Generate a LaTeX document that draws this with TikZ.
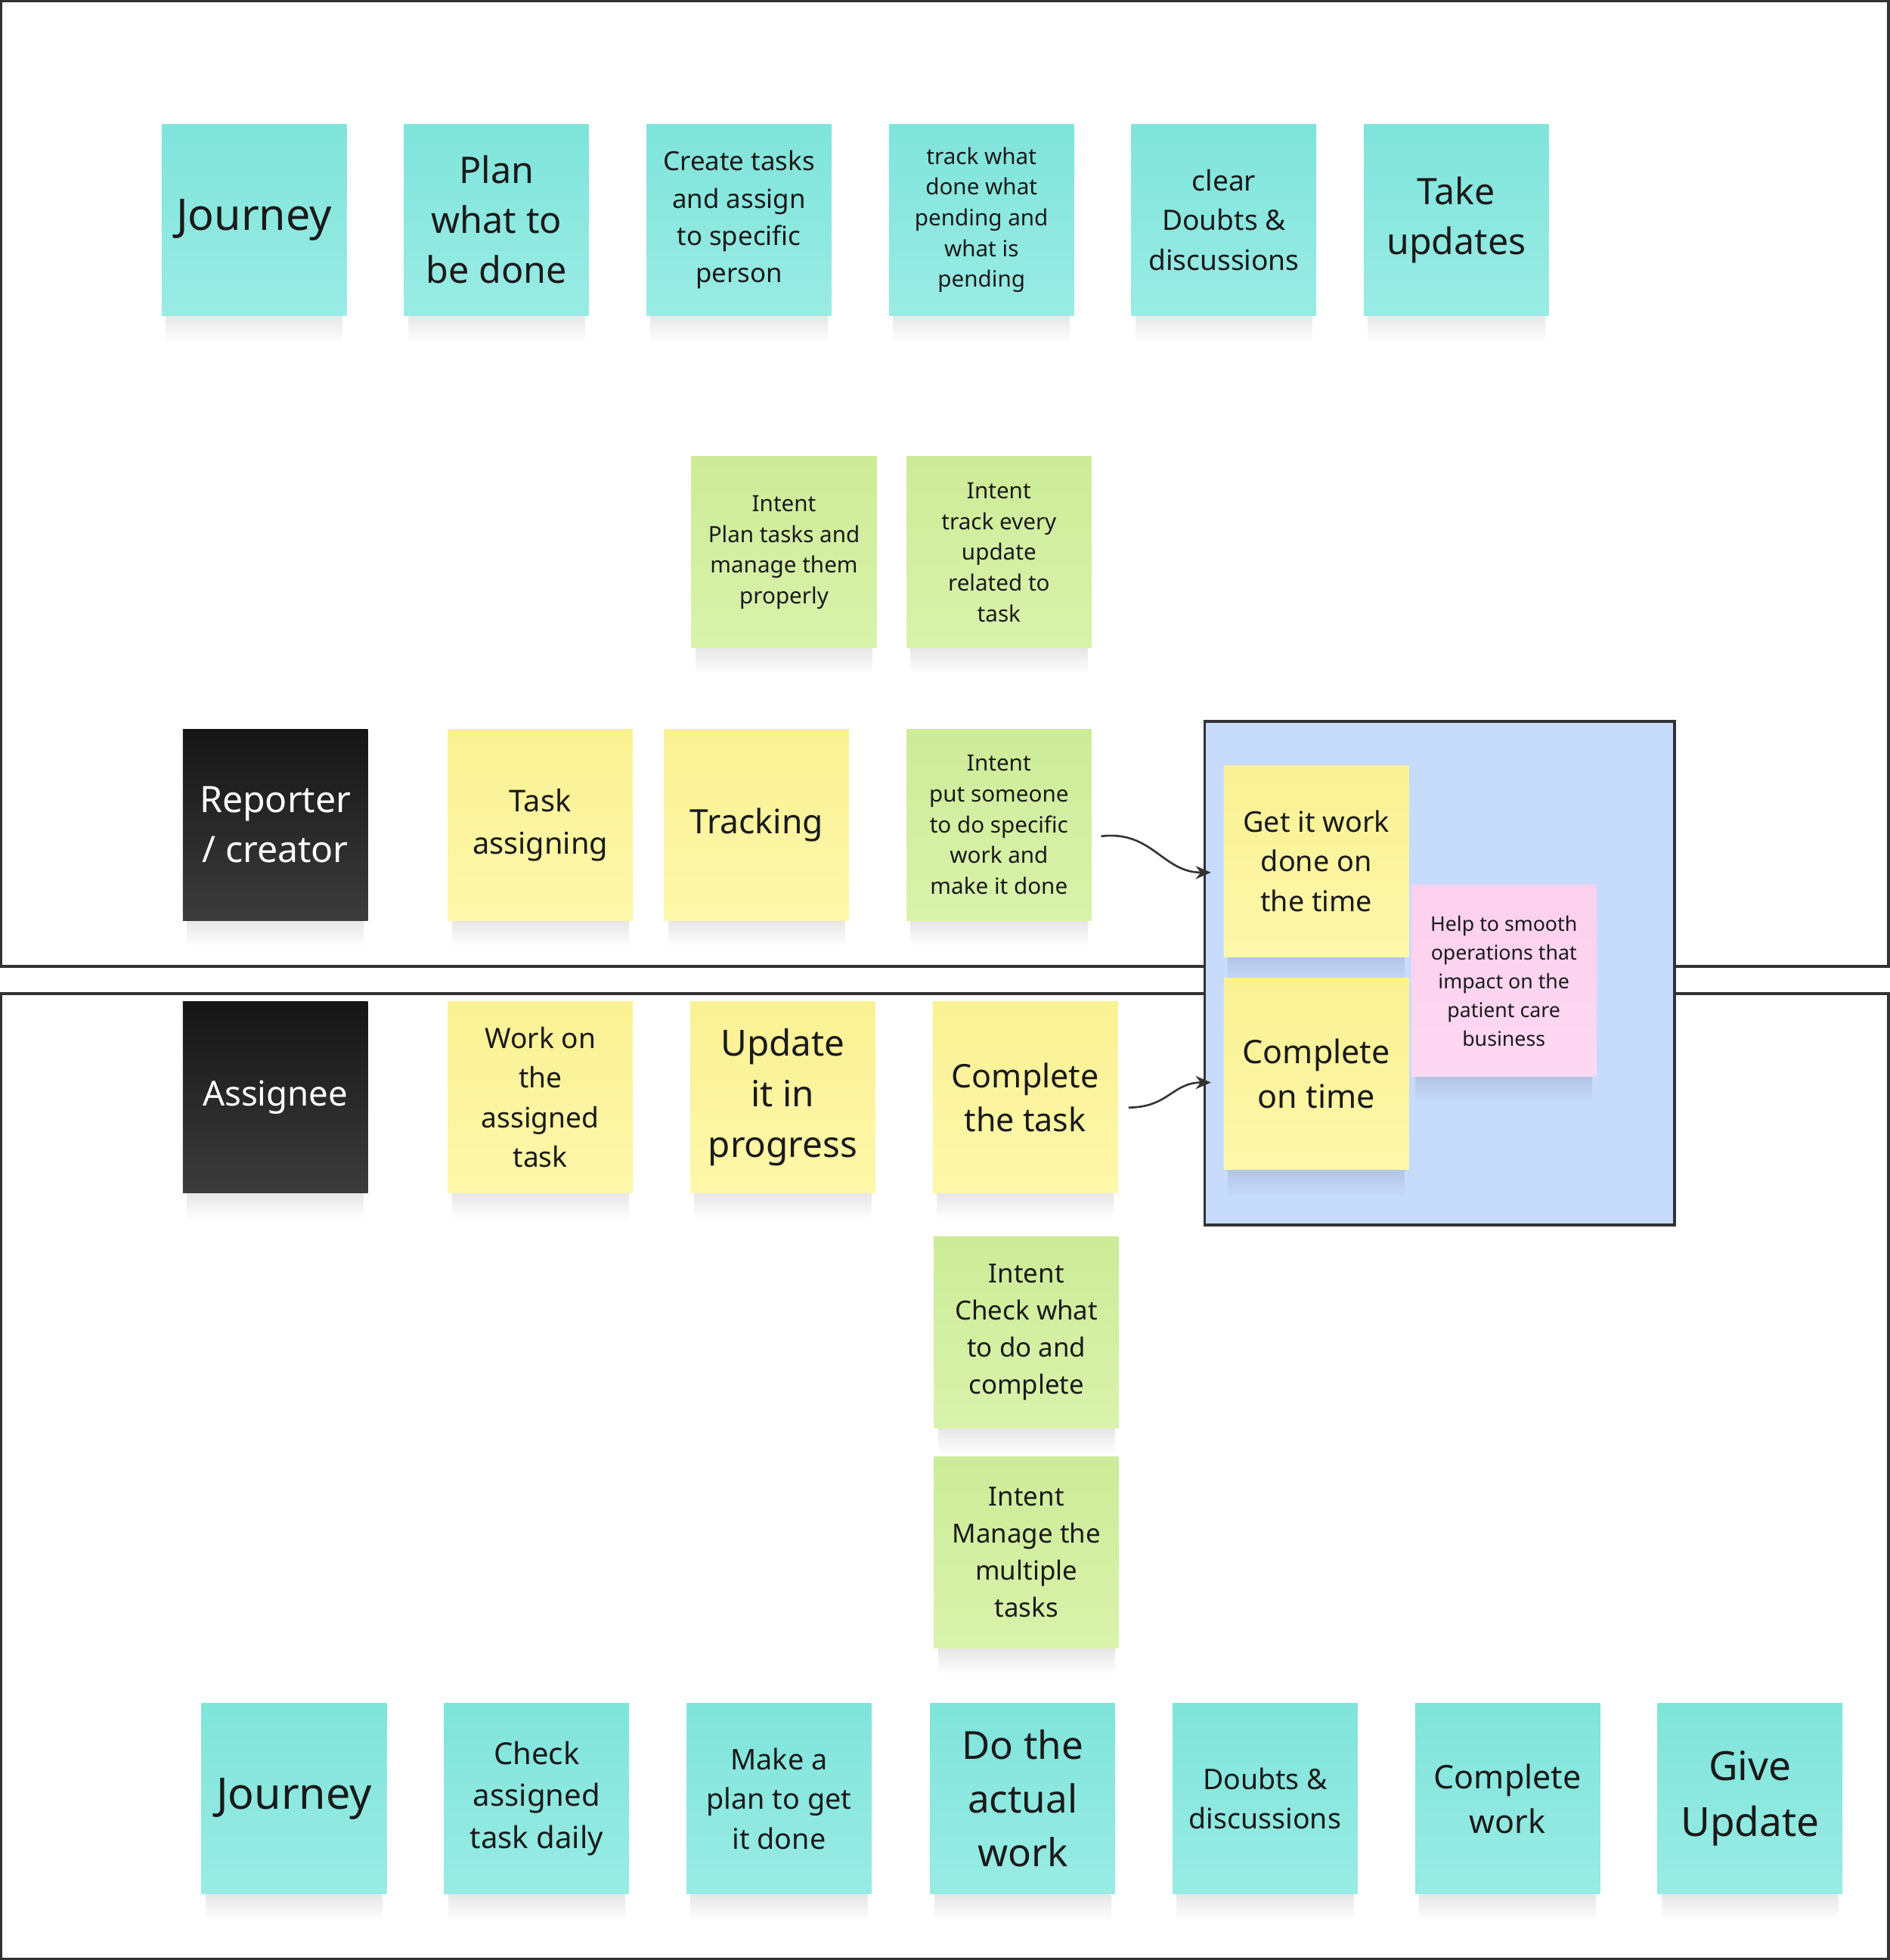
\documentclass[tikz,border=0pt]{standalone}
\usepackage{fontspec}
\setmainfont{Noto Sans}
\usetikzlibrary{fadings,arrows.meta}
\pgfdeclarelayer{bg}
\pgfdeclarelayer{sh}
\pgfsetlayers{bg,sh,main}
\definecolor{cyT}{HTML}{80E4DB}
\definecolor{cyB}{HTML}{99ECE4}
\definecolor{yeT}{HTML}{FAF193}
\definecolor{yeB}{HTML}{FDF7AA}
\definecolor{grT}{HTML}{CDEB98}
\definecolor{grB}{HTML}{D9F3AB}
\definecolor{pkT}{HTML}{FCD0EE}
\definecolor{pkB}{HTML}{FED9F3}
\definecolor{bkT}{HTML}{151515}
\definecolor{bkB}{HTML}{3C3C3C}
\definecolor{blueF}{HTML}{C7DBFC}
\definecolor{frame}{HTML}{333333}
\definecolor{txt}{HTML}{1A1A1A}
\newcommand\myfs[2]{\fontsize{#1pt}{#2pt}\selectfont}
\tikzset{
  fs/.style 2 args={font=\myfs{#1}{#2}},
  note/.style={anchor=north west, minimum width=2.96cm, minimum height=3.06cm,
    inner sep=0pt, align=center, text=txt},
  cy/.style={note, top color=cyT, bottom color=cyB},
  ye/.style={note, top color=yeT, bottom color=yeB},
  gr/.style={note, top color=grT, bottom color=grB},
  pk/.style={note, top color=pkT, bottom color=pkB},
  bk/.style={note, top color=bkT, bottom color=bkB, text=white},
  lane/.style={draw=frame, line width=1.2pt},
  softshadow/.style={fill=black, opacity=0.11, path fading=south},
  conn/.style={draw=frame, line width=0.9pt, -{Stealth[length=7pt,width=6pt]}}
}
\begin{document}
\begin{tikzpicture}[x=0.02cm, y=-0.02cm]
\useasboundingbox (0,0) rectangle (1512,1568);
\begin{pgfonlayer}{bg}
% lanes
\draw[lane] (1,1) rectangle (1511,773);
\draw[lane] (1,795) rectangle (1511,1567);
% goal box
\node[draw=frame, fill=blueF, line width=1.2pt, anchor=north west, inner sep=0pt,
      minimum width=7.52cm, minimum height=8.06cm] (goal) at (963,576) {};
\end{pgfonlayer}
% top journey
\node[cy, fs={19.8}{24}] (jr1) at (129,99) {Journey};
\node[cy, fs={16.7}{22.7}] (plan) at (323,99) {Plan\\what to\\be done};
\node[cy, fs={12}{17}] (create) at (517,99) {Create tasks\\and assign\\to specific\\person};
\node[cy, fs={10.2}{14}] (track) at (711,99) {track what\\done what\\pending and\\what is\\pending};
\node[cy, fs={12.8}{18.1}] (clear) at (905,99) {clear\\Doubts \&\\discussions};
\node[cy, fs={16.6}{22.7}] (take) at (1091,99) {Take\\updates};
% intents top
\node[gr, fs={10.2}{14}] (int1) at (553,365) {Intent\\Plan tasks and\\manage them\\properly};
\node[gr, fs={10.2}{14}] (int2) at (725,365) {Intent\\track every\\update\\related to\\task};
% reporter row
\node[bk, fs={16.6}{22.7}] (rep) at (146,583) {Reporter\\/ creator};
\node[ye, fs={13.7}{19.3}] (tasg) at (358,583) {Task\\assigning};
\node[ye, fs={15.3}{20}] (trk) at (531,583) {Tracking};
\node[gr, fs={10.2}{14}] (int3) at (725,583) {Intent\\put someone\\to do specific\\work and\\make it done};
% goal notes
\node[ye, fs={13}{18.1}] (getit) at (979,612) {Get it work\\done on\\the time};
\node[ye, fs={14.8}{20.4}] (cont) at (979,782) {Complete\\on time};
\node[pk, fs={9.2}{13.1}] (help) at (1129,708) {Help to smooth\\operations that\\impact on the\\patient care\\business};
% assignee row
\node[bk, fs={15.7}{20}] (asg) at (146,801) {Assignee};
\node[ye, fs={12.8}{18.1}] (work) at (358,801) {Work on\\the\\assigned\\task};
\node[ye, fs={16.4}{23}] (upd) at (552,801) {Update\\it in\\progress};
\node[ye, fs={14.8}{19.8}] (comp) at (746,801) {Complete\\the task};
% intents bottom
\node[gr, fs={12}{16.8}] (int4) at (747,989) {Intent\\Check what\\to do and\\complete};
\node[gr, fs={12}{16.8}] (int5) at (747,1165) {Intent\\Manage the\\multiple\\tasks};
% bottom journey
\node[cy, fs={19.8}{24}] (jr2) at (161,1362) {Journey};
\node[cy, fs={13.8}{19}] (chk) at (355,1362) {Check\\assigned\\task daily};
\node[cy, fs={13}{18.1}] (mk) at (549,1362) {Make a\\plan to get\\it done};
\node[cy, fs={17.6}{24.4}] (doit) at (744,1362) {Do the\\actual\\work};
\node[cy, fs={12.9}{18.1}] (dbt) at (938,1362) {Doubts \&\\discussions};
\node[cy, fs={14.8}{20.4}] (cw) at (1132,1362) {Complete\\work};
\node[cy, fs={18.3}{25.5}] (give) at (1326,1362) {Give\\Update};
% soft shadows under notes
\begin{pgfonlayer}{sh}
\foreach \n in {jr1,plan,create,track,clear,take,int1,int2,rep,tasg,trk,int3,
  getit,cont,help,asg,work,upd,comp,int4,int5,jr2,chk,mk,doit,dbt,cw,give}{
  \fill[softshadow] ([xshift=2pt,yshift=2pt]\n.south west) rectangle ([xshift=-2pt,yshift=-12pt]\n.south east);
}
\end{pgfonlayer}
% connectors
\coordinate (a1s) at (881,669);
\coordinate (a1e) at (969,698);
\coordinate (a2s) at (903,886);
\coordinate (a2e) at (969,866);
\draw[conn] (a1s) .. controls (922,664) and (930,698) .. (a1e);
\draw[conn] (a2s) .. controls (935,886) and (938,866) .. (a2e);
\end{tikzpicture}
\end{document}
